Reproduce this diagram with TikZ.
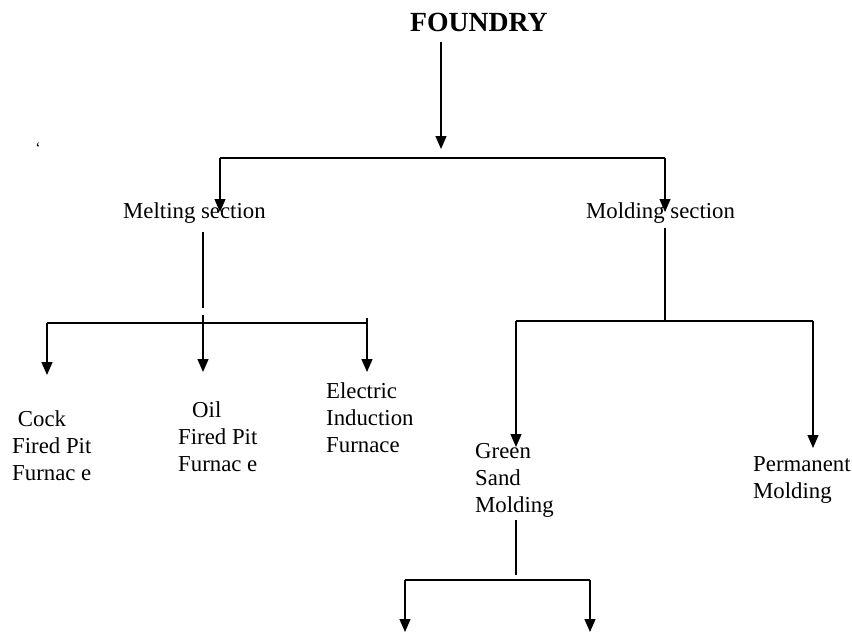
\documentclass[tikz,border=0pt]{standalone}
\usepackage{fontspec}
\setmainfont{Liberation Serif}
\usetikzlibrary{arrows.meta}
\begin{document}
\begin{tikzpicture}[x=1pt,y=-1pt,
  lbl/.style={inner sep=0pt, font=\fontsize{22.8}{27}\selectfont, align=left, anchor=north west},
  ln/.style={line width=1.3pt},
  bar/.style={line width=2.4pt},
  bartwo/.style={line width=1.9pt},
  arr/.style={ln, -{Triangle[width=11pt,length=13pt]}}]
\useasboundingbox (0,0) rectangle (852,634);

% nodes
\node[font=\fontsize{27.7}{33}\selectfont\bfseries, inner sep=0pt, anchor=base west] (found) at (410,32) {FOUNDRY};
\node[lbl, anchor=base west] (melt) at (123,218) {Melting section};
\node[lbl, anchor=base west] (mold) at (586,218) {Molding section};
\node[lbl] (cock) at (12,410) {\ Cock\\Fired Pit\\Furnac e};
\node[lbl] (oil) at (178,401) {\hspace*{14pt}Oil\\Fired Pit\\Furnac e};
\node[lbl] (elec) at (326,382) {Electric\\Induction\\Furnace};
\node[lbl] (green) at (475,443) {Green\\Sand\\Molding};
\node[lbl] (perm) at (753,456) {Permanent\\Molding};
\node[inner sep=0pt, font=\fontsize{16}{18}\selectfont] (tick) at (38,148) {`};

% junction coordinates
\coordinate (fA) at (441,42);   \coordinate (fB) at (441,149);
\coordinate (bL) at (220,158);  \coordinate (bR) at (665,158);
\coordinate (mL) at (220,212);  \coordinate (mR) at (665,212);
\coordinate (m1) at (203,232);  \coordinate (m2) at (203,308);
\coordinate (hL) at (47,323);   \coordinate (hR) at (367,323);
\coordinate (hM) at (203,315);  \coordinate (hRt) at (367,318);
\coordinate (cT) at (47,375);   \coordinate (oT) at (203,372);  \coordinate (eT) at (367,372);
\coordinate (d1) at (665,228);  \coordinate (d2) at (665,321);
\coordinate (gL) at (516,321);  \coordinate (gR) at (813,321);
\coordinate (gT) at (516,447);  \coordinate (pT) at (813,448);
\coordinate (s1) at (516,520);  \coordinate (s2) at (516,575);
\coordinate (kL) at (405,580);  \coordinate (kR) at (590,580);
\coordinate (kLt) at (405,632); \coordinate (kRt) at (590,632);

% connectors
\draw[arr] (fA) -- (fB);
\draw[bar] (bL) -- (bR);
\draw[arr] (bL) -- (mL);
\draw[arr] (bR) -- (mR);

\draw[ln] (m1) -- (m2);
\draw[bartwo] (hL) -- (hR);
\draw[arr] (hL) -- (cT);
\draw[arr] (hM) -- (oT);
\draw[arr] (hRt) -- (eT);

\draw[ln] (d1) -- (d2);
\draw[bartwo] (gL) -- (gR);
\draw[arr] (gL) -- (gT);
\draw[arr] (gR) -- (pT);

\draw[ln] (s1) -- (s2);
\draw[bartwo] (kL) -- (kR);
\draw[arr] (kL) -- (kLt);
\draw[arr] (kR) -- (kRt);
\end{tikzpicture}
\end{document}
